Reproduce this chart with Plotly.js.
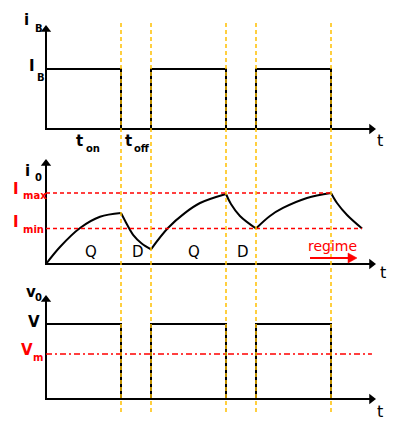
<!DOCTYPE html>
<html><head><meta charset="utf-8">
<script src="https://cdn.plot.ly/plotly-3.0.1.min.js"></script>
<style>html,body{margin:0;padding:0;background:#fff;}#chart{width:400px;height:431px;}</style>
</head><body><div id="chart"></div>
<script>
// ---------- data (time in units of one t_off/2 step) ----------
const edgeTimes = [5, 7, 12, 14, 19];             // switching instants
const waveT = [0, 5, 5, 7, 7, 12, 12, 14, 14, 19, 19];
const iB    = [1, 1, 0, 0, 1, 1, 0, 0, 1, 1, 0];  // base current (I_B = 1)
const vO    = [1, 1, 0, 0, 1, 1, 0, 0, 1, 1, 0];  // output voltage (V = 1)
const levelVm = 0.6;
const levelImax = 1.0;
const levelImin = 0.5;
// load current i_0, segments separated by null (Q, D, Q, D, Q, D)
const curveT = [0, 0.93, 2.27, 3.6, 5, null,
                5, 5.27, 5.82, 6.38, 7, null,
                7, 8.13, 9.27, 10.27, 12, null,
                12, 12.33, 12.93, 14, null,
                14, 14.93, 15.8, 17.4, 19, null,
                19, 19.4, 20.07, 21.07];
const curveI = [0, 0.24, 0.507, 0.665, 0.718, null,
                0.718, 0.61, 0.408, 0.29, 0.207, null,
                0.207, 0.507, 0.72, 0.859, 0.986, null,
                0.986, 0.845, 0.676, 0.5, null,
                0.5, 0.676, 0.789, 0.93, 1.0, null,
                1.0, 0.859, 0.69, 0.5];
const phaseLabels = ['Q', 'D', 'Q', 'D'];
const phaseT = [3.0, 6.13, 9.87, 13.1];

// ---------- geometry / styles ----------
const axisEnd = {t: 21.7, top: 1.658, mid: 1.415, bot: 1.327};
const imaxEnd = 19.1, iminEnd = 21.07, vmEnd = 21.73;
const BLACK = '#000', RED = '#ff0000', GOLD = '#ffc000';

const traces = [];
function axisTrace(yax, top) {
  traces.push({x: [0, 0, axisEnd.t], y: [top, 0, 0], yaxis: yax, mode: 'lines',
    line: {color: BLACK, width: 2}, hoverinfo: 'skip'});
  traces.push({x: [0, axisEnd.t], y: [top, 0], yaxis: yax, mode: 'markers',
    marker: {symbol: ['triangle-up', 'triangle-right'], size: 9, color: BLACK}, hoverinfo: 'skip'});
}
axisTrace('y', axisEnd.top);
axisTrace('y2', axisEnd.mid);
axisTrace('y3', axisEnd.bot);

traces.push({x: waveT, y: iB, yaxis: 'y', mode: 'lines', line: {color: BLACK, width: 2}});
traces.push({x: waveT, y: vO, yaxis: 'y3', mode: 'lines', line: {color: BLACK, width: 2}});

// split curve into segments
let segT = [], segI = [];
function flush() {
  if (segT.length) traces.push({x: segT, y: segI, yaxis: 'y2', mode: 'lines',
    line: {color: BLACK, width: 2, shape: 'spline', smoothing: 1}});
  segT = []; segI = [];
}
curveT.forEach((t, k) => { if (t === null) flush(); else { segT.push(t); segI.push(curveI[k]); } });
flush();

traces.push({x: [0, imaxEnd], y: [levelImax, levelImax], yaxis: 'y2', mode: 'lines',
  line: {color: RED, width: 1.5, dash: '4px,3px'}});
traces.push({x: [0, iminEnd], y: [levelImin, levelImin], yaxis: 'y2', mode: 'lines',
  line: {color: RED, width: 1.5, dash: '4px,3px'}});
traces.push({x: [0, vmEnd], y: [levelVm, levelVm], yaxis: 'y3', mode: 'lines',
  line: {color: RED, width: 1.5, dash: '6px,3px,2px,3px'}});

const shapes = edgeTimes.map(t => ({type: 'line', xref: 'x', yref: 'paper', x0: t, x1: t,
  y0: 1 - 412 / 431, y1: 1 - 22 / 431, line: {color: GOLD, width: 1.5, dash: '4px,3px'}, layer: 'above'}));
// regime arrow (pixel helper axes)
shapes.push({type: 'line', xref: 'x2', yref: 'y4', x0: 310, x1: 350, y0: 258, y1: 258, line: {color: RED, width: 2}});
shapes.push({type: 'path', xref: 'x2', yref: 'y4', path: 'M348,253 L357,258 L348,263 Z', fillcolor: RED, line: {color: RED, width: 0.5}});

const F = 'DejaVu Sans';
function lab(text, x, y, size, color, bold) {
  return {text: text, x: x, y: y, xref: 'x2', yref: 'y4', showarrow: false,
    xanchor: 'center', yanchor: 'middle',
    font: {family: F, size: size, color: color || BLACK, weight: bold ? 'bold' : 'normal'}};
}
const ann = [
  lab('i', 26, 20, 15, BLACK, true), lab('B', 38.5, 28.5, 10, BLACK, true),
  lab('I', 31.5, 66, 15, BLACK, true), lab('B', 41, 77, 10, BLACK, true),
  lab('t', 79.7, 140.5, 15, BLACK, true), lab('on', 92.5, 148.7, 10, BLACK, true),
  lab('t', 128, 140.5, 15, BLACK, true), lab('off', 141.7, 148.7, 10, BLACK, true),
  lab('t', 380, 140, 16, BLACK, false),
  lab('i', 27.5, 171, 15, BLACK, true), lab('0', 38, 177, 10, BLACK, true),
  lab('I', 16, 188.5, 15, RED, true), lab('max', 34.7, 195.5, 10, RED, true),
  lab('I', 16, 222, 15, RED, true), lab('min', 33, 229, 10, RED, true),
  lab('regime', 332, 246, 14, RED, false),
  lab('t', 383, 272, 16, BLACK, false),
  lab('v', 30.5, 291.5, 15, BLACK, true), lab('0', 38, 297, 10, BLACK, true),
  lab('V', 33.5, 321.5, 15, BLACK, true),
  lab('V', 27, 349.5, 15, RED, true), lab('m', 37.7, 357.5, 10, RED, true),
  lab('t', 379.5, 411, 16, BLACK, false)
];
phaseLabels.forEach((s, k) => ann.push({text: s, x: phaseT[k], y: 0.165, xref: 'x', yref: 'y2',
  showarrow: false, font: {family: F, size: 15, color: BLACK}}));

const hid = {visible: false, fixedrange: true};
const layout = {
  width: 400, height: 431, margin: {l: 0, r: 0, t: 0, b: 0},
  paper_bgcolor: '#fff', plot_bgcolor: '#fff', showlegend: false,
  xaxis: Object.assign({range: [-46 / 15, 354 / 15]}, hid),
  xaxis2: Object.assign({range: [0, 400], overlaying: 'x'}, hid),
  yaxis: Object.assign({range: [(129 - 431) / 60, 129 / 60]}, hid),
  yaxis2: Object.assign({range: [(264 - 431) / 71, 264 / 71], overlaying: 'y'}, hid),
  yaxis3: Object.assign({range: [(399 - 431) / 75, 399 / 75], overlaying: 'y'}, hid),
  yaxis4: Object.assign({range: [431, 0], overlaying: 'y'}, hid),
  shapes: shapes, annotations: ann
};
Plotly.newPlot('chart', traces, layout, {staticPlot: true, displayModeBar: false});
</script></body></html>
